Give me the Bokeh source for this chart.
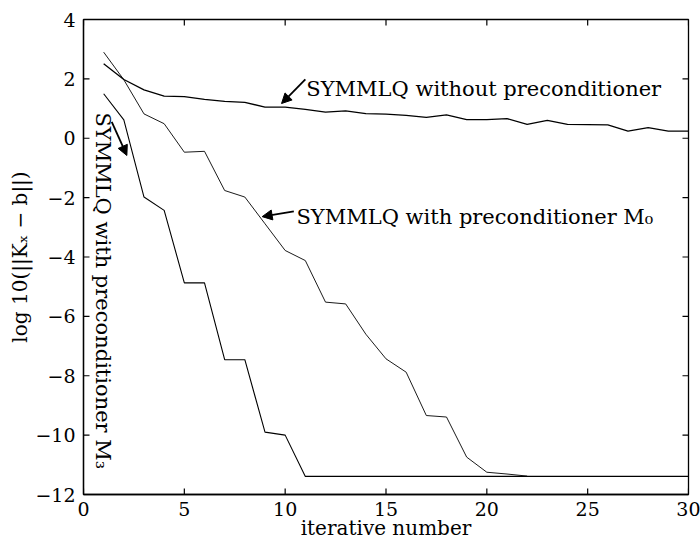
import math
from bokeh.plotting import figure
from bokeh.models import Range1d, FixedTicker, Arrow, NormalHead, Label
from bokeh.embed import file_html
from bokeh.resources import INLINE

# ---- data ----
iters_none = list(range(1, 31))
log_res_none = [2.51, 1.98, 1.63, 1.42, 1.40, 1.31, 1.24, 1.21, 1.05, 1.05,
                0.97, 0.88, 0.92, 0.83, 0.81, 0.77, 0.70, 0.79, 0.63, 0.63,
                0.66, 0.47, 0.60, 0.47, 0.46, 0.45, 0.24, 0.36, 0.24, 0.24]

iters_m0 = list(range(1, 23))
log_res_m0 = [2.90, 1.97, 0.82, 0.49, -0.47, -0.44, -1.76, -1.98, -2.88, -3.78,
              -4.12, -5.52, -5.58, -6.60, -7.43, -7.88, -9.34, -9.39, -10.74, -11.25,
              -11.31, -11.38]

iters_m3 = list(range(1, 31))
log_res_m3 = [1.50, 0.62, -1.98, -2.43, -4.87, -4.87, -7.46, -7.46, -9.90, -10.00,
              -11.39, -11.39, -11.39, -11.39, -11.39, -11.39, -11.39, -11.39, -11.39, -11.39,
              -11.39, -11.39, -11.39, -11.39, -11.39, -11.39, -11.39, -11.39, -11.39, -11.39]

x_ticks = [0, 5, 10, 15, 20, 25, 30]
y_ticks = [-12, -10, -8, -6, -4, -2, 0, 2, 4]
x_min, x_max = 0, 30
y_min, y_max = -12, 4

label_none = "SYMMLQ without preconditioner"
label_m0 = "SYMMLQ with preconditioner M\u2080"
label_m3 = "SYMMLQ with preconditioner M\u2083"

FONT = "DejaVu Serif"

p = figure(width=700, height=544, x_range=Range1d(x_min, x_max), y_range=Range1d(y_min, y_max),
           output_backend="svg", toolbar_location=None,
           min_border_left=83, min_border_right=12, min_border_top=19, min_border_bottom=50)
p.grid.visible = False
p.outline_line_color = "black"
p.outline_line_width = 1.3
p.background_fill_color = "white"
p.border_fill_color = "white"

for ax, ticks in ((p.xaxis[0], x_ticks), (p.yaxis[0], y_ticks)):
    ax.ticker = FixedTicker(ticks=ticks)
    ax.major_tick_in = 0
    ax.major_tick_out = 0
    ax.major_tick_line_color = None
    ax.minor_tick_line_color = None
    ax.axis_line_color = "black"
    ax.axis_line_width = 1.3
    ax.major_label_text_font = FONT
    ax.major_label_text_font_size = "19px"
    ax.major_label_text_color = "black"
    ax.axis_label_text_font = FONT
    ax.axis_label_text_font_size = "20px"
    ax.axis_label_text_font_style = "normal"
    ax.axis_label_text_color = "black"

p.xaxis[0].axis_label = "iterative number"
p.yaxis[0].axis_label = "log 10(||K\u2093 \u2212 b||)"
p.xaxis[0].major_label_standoff = 7
p.xaxis[0].axis_label_standoff = -3
p.yaxis[0].major_label_standoff = 8
p.yaxis[0].axis_label_standoff = 0

# inward tick marks on all four sides (drawn at the tick values)
tick_len = 6
tick_style = dict(length=tick_len, length_units="screen", line_color="black", line_width=1.2)
p.ray(x=x_ticks, y=[y_min] * len(x_ticks), angle=math.pi / 2, **tick_style)
p.ray(x=x_ticks, y=[y_max] * len(x_ticks), angle=-math.pi / 2, **tick_style)
p.ray(x=[x_min] * len(y_ticks), y=y_ticks, angle=0, **tick_style)
p.ray(x=[x_max] * len(y_ticks), y=y_ticks, angle=math.pi, **tick_style)

p.line(iters_none, log_res_none, line_color="black", line_width=1.3)
p.line(iters_m0, log_res_m0, line_color="black", line_width=0.9)
p.line(iters_m3, log_res_m3, line_color="black", line_width=1.1)

def arrow(x0, y0, x1, y1):
    p.add_layout(Arrow(end=NormalHead(size=10, fill_color="black", line_color="black"),
                       x_start=x0, y_start=y0, x_end=x1, y_end=y1,
                       line_color="black", line_width=1.8))

arrow(11.0, 1.98, 9.82, 1.17)
arrow(10.43, -2.46, 8.86, -2.64)
arrow(1.40, 0.55, 2.15, -0.58)

common = dict(text_font=FONT, text_font_size="21px", text_color="black")
p.add_layout(Label(x=11.05, y=1.67, text=label_none, text_baseline="alphabetic",
                   text_align="left", **common))
p.add_layout(Label(x=10.56, y=-2.64, text=label_m0, text_baseline="alphabetic",
                   text_align="left", **common))
p.add_layout(Label(x=0.95, y=0.87, text=label_m3, text_baseline="alphabetic",
                   text_align="left", angle=-math.pi / 2, **common))

open("out.html", "w").write(file_html(p, INLINE))
